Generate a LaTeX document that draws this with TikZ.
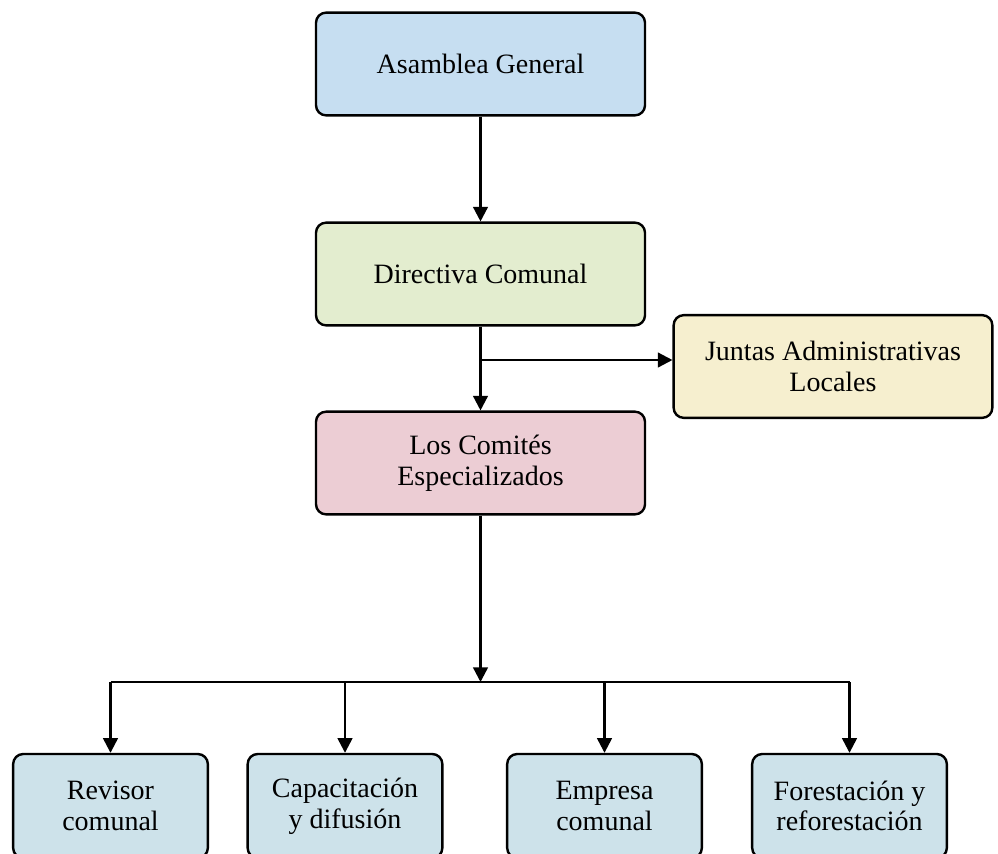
\documentclass[tikz,border=0pt]{standalone}
\usepackage{fontspec}
\setmainfont{Liberation Serif}
\usetikzlibrary{arrows.meta}

\definecolor{asambleablue}{RGB}{198,222,241}
\definecolor{directivagreen}{RGB}{227,237,207}
\definecolor{juntasyellow}{RGB}{246,239,207}
\definecolor{comitespink}{RGB}{236,205,212}
\definecolor{comitebox}{RGB}{205,226,234}

\begin{document}
\begin{tikzpicture}[x=0.75pt,y=-0.75pt]

\tikzset{box/.style = {shape=rectangle,draw,line width=1.8pt,rounded corners=7.5pt,
  align=center,font=\fontsize{21}{23}\selectfont,minimum width=246.75pt,minimum height=77pt}}
\tikzset{small/.style = {box,minimum width=146pt,minimum height=78pt}}
\tikzset{edge/.style = {-{Triangle[width=11pt,length=11pt]},line width=1.8pt}}

\clip (0,0) rectangle (998,853);

%boxes
\node[box, fill=asambleablue] (asamblea) at (480.5,64) {Asamblea General};
\node[box, fill=directivagreen] (directiva) at (480.5,274) {Directiva Comunal};
\node[box, fill=juntasyellow, minimum width=239pt] (juntas) at (833,366.5) {Juntas Administrativas\\Locales};
\node[box, fill=comitespink] (comites) at (480.5,463) {Los Comités\\Especializados};
\node[small, fill=comitebox] (revisor) at (110.5,806) {Revisor\\comunal};
\node[small, fill=comitebox] (capacitacion) at (345,806) {Capacitación\\y difusión};
\node[small, fill=comitebox] (empresa) at (604.5,806) {Empresa\\comunal};
\node[small, fill=comitebox] (forestacion) at (849.5,806) {Forestación y\\reforestación};

%edges
\coordinate (split) at (480.5,360);
\coordinate (bus) at (480.5,682);
\draw[edge] (asamblea) -- (directiva);
\draw[edge] (directiva) -- (comites);
\draw[edge] (split) -- (split -| juntas.west);
\draw[edge] (comites) -- (bus);
\draw[line width=1.8pt] (revisor.north |- bus) -- (forestacion.north |- bus);
\foreach \n in {revisor,capacitacion,empresa,forestacion}
  \draw[edge] (\n.north |- bus) -- (\n.north);

\end{tikzpicture}
\end{document}
